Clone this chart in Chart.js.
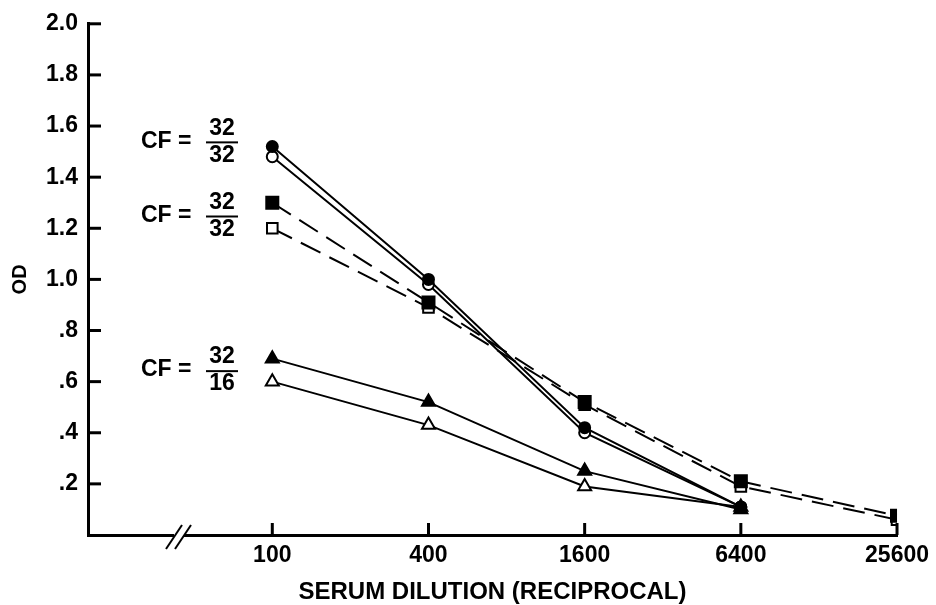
<!DOCTYPE html>
<html>
<head>
<meta charset="utf-8">
<script src="https://cdn.jsdelivr.net/npm/chart.js@4.4.0/dist/chart.umd.min.js"></script>
<style>
  html, body { margin: 0; padding: 0; background: #fff; }
  #wrap { width: 936px; height: 605px; position: relative; }
</style>
</head>
<body>
<div id="wrap"><canvas id="chart"></canvas></div>
<script>
// Datos
const dilutions = ['100', '400', '1600', '6400', '25600'];
const yTicks = [0.2, 0.4, 0.6, 0.8, 1.0, 1.2, 1.4, 1.6, 1.8, 2.0];

const circleFilled = [1.52, 1.00, 0.42, 0.11];
const circleOpen = [1.48, 0.98, 0.40, 0.11];
const squareFilled = [1.30, 0.91, 0.52, 0.21, 0.075];
const squareOpen = [1.20, 0.89, 0.51, 0.19, 0.06];
const triFilled = [0.69, 0.52, 0.25, 0.10];
const triOpen = [0.60, 0.43, 0.19, 0.11];

// Etiquetas CF: [numerador, denominador, valor y]
const cfLabels = [
  ['32', '32', 1.54],
  ['32', '32', 1.25],
  ['32', '16', 0.645]
];

const FAMILY = '"Liberation Sans", Arial, sans-serif';
const FONT = 'bold 23px ' + FAMILY;

function toPoints(values) {
  return values.map((v, i) => ({ x: i, y: v }));
}

function series(values, style, filled, dashed) {
  let r = 5.5;
  if (style === 'rect') r = filled ? 8.5 : 7.5;
  if (style === 'triangle') r = 7.5;
  return {
    data: toPoints(values),
    borderColor: '#000',
    borderWidth: 2,
    borderDash: dashed ? [22, 10] : [],
    pointStyle: style,
    pointRadius: r,
    pointBorderWidth: 2,
    pointBorderColor: '#000',
    pointBackgroundColor: filled ? '#000' : '#fff',
    tension: 0,
    fill: false
  };
}

// Marcas de ejes hacia dentro, corte del eje y etiquetas CF
const decorations = {
  id: 'decorations',
  afterDatasetsDraw(chart) {
    const ctx = chart.ctx;
    const xs = chart.scales.x;
    const ys = chart.scales.y;
    const area = chart.chartArea;
    ctx.save();
    ctx.strokeStyle = '#000';
    ctx.lineWidth = 3;
    // ticks eje y
    yTicks.forEach(v => {
      const py = ys.getPixelForValue(v);
      ctx.beginPath();
      ctx.moveTo(area.left, py);
      ctx.lineTo(area.left + 13, py);
      ctx.stroke();
    });
    // ticks eje x
    dilutions.forEach((d, i) => {
      const px = xs.getPixelForValue(i);
      ctx.beginPath();
      ctx.moveTo(px, area.bottom);
      ctx.lineTo(px, area.bottom - 12);
      ctx.stroke();
    });
    // corte //
    const bx = 180;
    ctx.lineWidth = 2;
    ctx.fillStyle = '#fff';
    ctx.fillRect(bx - 6, area.bottom - 3, 10, 6);
    [-6, 3].forEach(off => {
      ctx.beginPath();
      ctx.moveTo(bx + off - 8, area.bottom + 14);
      ctx.lineTo(bx + off + 8, area.bottom - 10);
      ctx.stroke();
    });
    // etiquetas CF
    ctx.fillStyle = '#000';
    ctx.font = FONT;
    ctx.textBaseline = 'middle';
    cfLabels.forEach(([num, den, v]) => {
      const py = ys.getPixelForValue(v);
      ctx.textAlign = 'left';
      ctx.fillText('CF =', 141, py);
      ctx.textAlign = 'center';
      ctx.fillText(num, 222, py - 13);
      ctx.fillText(den, 222, py + 14);
      ctx.lineWidth = 2;
      ctx.beginPath();
      ctx.moveTo(206, py + 1);
      ctx.lineTo(238, py + 1);
      ctx.stroke();
    });
    ctx.restore();
  }
};

const ctx = document.getElementById('chart').getContext('2d');
new Chart(ctx, {
  type: 'line',
  data: {
    datasets: [
      series(circleFilled, 'circle', true, false),
      series(circleOpen, 'circle', false, false),
      series(squareFilled, 'rect', true, true),
      series(squareOpen, 'rect', false, true),
      series(triFilled, 'triangle', true, false),
      series(triOpen, 'triangle', false, false)
    ]
  },
  options: {
    responsive: true,
    maintainAspectRatio: false,
    animation: false,
    layout: { padding: { left: 8, top: 18, right: 36, bottom: 0 } },
    plugins: { legend: { display: false }, tooltip: { enabled: false } },
    scales: {
      x: {
        type: 'linear',
        min: -1.18,
        max: 4,
        afterBuildTicks: s => { s.ticks = dilutions.map((d, i) => ({ value: i })); },
        afterFit: s => { s.height = 70; },
        grid: { display: false, drawTicks: false },
        border: { color: '#000', width: 3 },
        ticks: {
          color: '#000',
          font: { family: FAMILY, size: 23, weight: 'bold' },
          padding: 7,
          maxRotation: 0,
          callback: v => dilutions[v]
        },
        title: {
          display: true,
          text: 'SERUM DILUTION (RECIPROCAL)',
          color: '#000',
          font: { family: FAMILY, size: 24, weight: 'bold' },
          padding: { top: 10, bottom: -2 }
        }
      },
      y: {
        min: 0,
        max: 2.0,
        afterBuildTicks: s => { s.ticks = yTicks.map(v => ({ value: v })); },
        afterFit: s => { s.width = 80; },
        grid: { display: false, drawTicks: false },
        border: { color: '#000', width: 3 },
        ticks: {
          color: '#000',
          font: { family: FAMILY, size: 23, weight: 'bold' },
          padding: 10,
          callback: v => v < 1 ? '.' + Math.round(v * 10) : v.toFixed(1)
        },
        title: {
          display: true,
          text: 'OD',
          color: '#000',
          font: { family: FAMILY, size: 20, weight: 'bold' },
          padding: 0
        }
      }
    }
  },
  plugins: [decorations]
});
</script>
</body>
</html>
